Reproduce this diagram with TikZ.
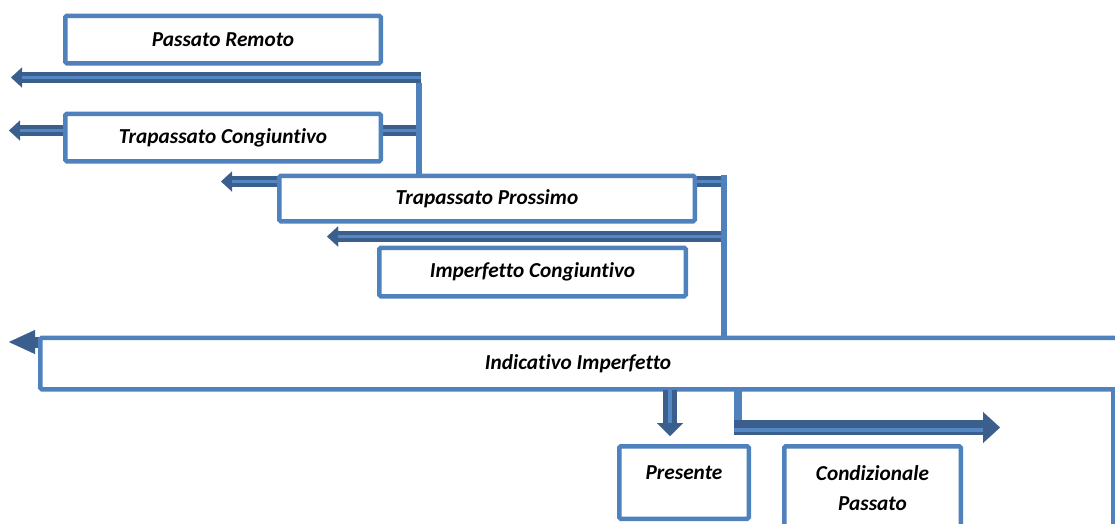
\documentclass[tikz,border=0pt]{standalone}
\usepackage{fontspec}
\setmainfont{Carlito}[Ligatures=NoCommon]
\usetikzlibrary{arrows.meta}
\definecolor{boxblue}{HTML}{4F81BD}
\definecolor{arrdark}{HTML}{3B5F8D}
\definecolor{arrlight}{HTML}{5587C2}
\begin{document}
\begin{tikzpicture}[x=1pt,y=-1pt,
  box/.style={draw=boxblue, line width=4.5pt, fill=white, rounded corners=1.5pt, inner sep=0pt,
    font=\fontsize{21.3}{30}\selectfont\bfseries\itshape, align=center},
  fat/.style={draw=arrdark, line width=11pt, -{Triangle[width=20pt,length=11pt,line width=0.01pt]}},
  bighead/.style={draw=arrdark, line width=11pt, -{Triangle[width=24pt,length=26pt,line width=0.01pt]}},
  fatv/.style={draw=arrdark, line width=14pt, -{Triangle[width=26pt,length=13pt,line width=0.01pt]}},
  fath/.style={draw=arrdark, line width=15pt, -{Triangle[width=31pt,length=17pt,line width=0.01pt]}},
  stripe/.style={draw=arrlight, line width=2.5pt},
  link/.style={draw=boxblue, line width=6pt},
  thinlink/.style={draw=boxblue, line width=4pt}]
\useasboundingbox (0,0) rectangle (1115,523);
\clip (0,0) rectangle (1115,523);

% coordinates of connector ends
\coordinate (a1s) at (421,77.5);  \coordinate (a1t) at (11,77.5);
\coordinate (a2s) at (418,130.5); \coordinate (a2t) at (9,130.5);
\coordinate (a3s) at (724,181.5); \coordinate (a3t) at (221,181.5);
\coordinate (a4s) at (724,236.5); \coordinate (a4t) at (327,236.5);
\coordinate (a5s) at (724,342);   \coordinate (a5t) at (9,342);
\coordinate (v1s) at (419,83);    \coordinate (v1e) at (419,175);
\coordinate (v2s) at (724,175);   \coordinate (v2e) at (724,337);
\coordinate (pds) at (670,390);   \coordinate (pdt) at (670,436);
\coordinate (ls)  at (738,390);   \coordinate (lc)  at (738,435);
\coordinate (lhs) at (734,427.5); \coordinate (lht) at (1000,427.5);
\coordinate (rs)  at (1113,390);  \coordinate (re)  at (1113,530);

% arrows (behind boxes)
\draw[fat] (a1s) -- (a1t);
\draw[stripe] (a1s) -- ([xshift=11pt]a1t);
\draw[fat] (a2s) -- (a2t);
\draw[stripe] (a2s) -- ([xshift=11pt]a2t);
\draw[fat] (a3s) -- (a3t);
\draw[stripe] (a3s) -- ([xshift=11pt]a3t);
\draw[fat] (a4s) -- (a4t);
\draw[stripe] (a4s) -- ([xshift=11pt]a4t);
\draw[bighead] (a5s) -- (a5t);

% vertical links
\draw[link] (v1s) -- (v1e);
\draw[link] (v2s) -- (v2e);

% boxes
\node[box, minimum width=315.5pt, minimum height=47.5pt] (pr) at (223,39.5) {Passato Remoto};
\node[box, minimum width=315.5pt, minimum height=47.5pt] (tc) at (223,137.5) {Trapassato Congiuntivo};
\node[box, minimum width=415.5pt, minimum height=45.5pt] (tp) at (487,198.5) {Trapassato Prossimo};
\node[box, minimum width=306.5pt, minimum height=48.5pt] (ic) at (532.5,272) {Imperfetto Congiuntivo};
\node[box, minimum width=1095.5pt, minimum height=51.5pt] (ii) at (588,363.5) {Indicativo Imperfetto\hspace{20pt}};
\node[box, minimum width=129.5pt, text height=32.75pt, text depth=39.75pt] (pres) at (684,482.5) {Presente};
\node[box, minimum width=176.5pt, minimum height=84.5pt] (cp) at (872.5,488.5) {Condizionale\\Passato};

% arrows below Indicativo
\draw[fatv] (pds) -- (pdt);
\draw[draw=arrlight, line width=4pt] (pds) -- ([yshift=13pt]pdt);
\draw[thinlink, line width=8pt] (ls) -- (lc);
\draw[fath] (lhs) -- (lht);
\draw[draw=arrlight, line width=4pt] ([yshift=-2pt]lhs) -- ([xshift=-17pt,yshift=-2pt]lht);
\draw[thinlink] (rs) -- (re);
\end{tikzpicture}
\end{document}
